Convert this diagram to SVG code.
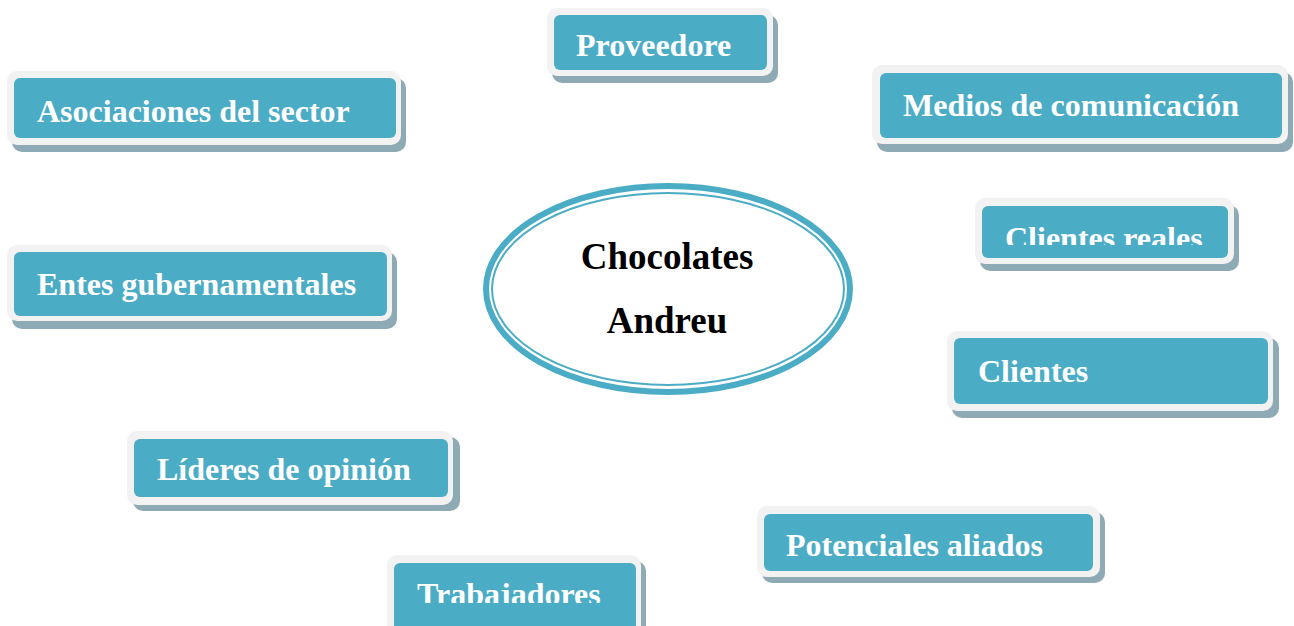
<svg xmlns="http://www.w3.org/2000/svg" width="1294" height="626" viewBox="0 0 1294 626">
<style>
.sh{fill:#8eaab4}
.out{fill:#f2f2f2}
.in{fill:#4bacc6}
.lbl{font-family:"Liberation Serif","Times New Roman",serif;font-weight:bold;font-size:32px;fill:#ffffff}
.ctr{font-family:"Liberation Serif","Times New Roman",serif;font-weight:bold;font-size:37px;fill:#000000;text-anchor:middle}
</style>
<defs>
<clipPath id="clipCR"><rect x="982" y="206" width="246" height="39"/></clipPath>
<clipPath id="clipTR"><rect x="394" y="563" width="242" height="40"/></clipPath>
</defs>
<rect width="1294" height="626" fill="#ffffff"/>
<g id="connectors"></g>
<g id="center">
<ellipse cx="668" cy="289" rx="182" ry="103" fill="#ffffff" stroke="#4bacc6" stroke-width="6"/>
<ellipse cx="668" cy="289" rx="176" ry="96" fill="none" stroke="#4bacc6" stroke-width="2"/>
<text class="ctr" x="667" y="269">Chocolates</text>
<text class="ctr" x="667" y="333">Andreu</text>
</g>
<g id="proveedore">
<rect class="sh" x="552" y="15" width="226" height="68" rx="10"/>
<rect class="out" x="547" y="8" width="226" height="68" rx="10"/>
<rect class="in" x="554" y="15" width="213" height="55" rx="6"/>
<text class="lbl" x="576" y="56">Proveedore</text>
</g>
<g id="asociaciones">
<rect class="sh" x="12" y="78" width="394" height="74" rx="10"/>
<rect class="out" x="7" y="71" width="394" height="74" rx="10"/>
<rect class="in" x="14" y="78" width="382" height="60" rx="6"/>
<text class="lbl" x="37" y="122">Asociaciones del sector</text>
</g>
<g id="medios">
<rect class="sh" x="877" y="72" width="416" height="80" rx="10"/>
<rect class="out" x="872" y="65" width="416" height="79" rx="10"/>
<rect class="in" x="880" y="73" width="402" height="65" rx="6"/>
<text class="lbl" x="903" y="116">Medios de comunicación</text>
</g>
<g id="clientes-reales">
<rect class="sh" x="980" y="205" width="259" height="66" rx="10"/>
<rect class="out" x="975" y="198" width="259" height="66" rx="10"/>
<rect class="in" x="982" y="206" width="246" height="52" rx="6"/>
<text class="lbl" x="1005" y="249" clip-path="url(#clipCR)">Clientes reales</text>
</g>
<g id="entes">
<rect class="sh" x="12" y="252" width="385" height="77" rx="10"/>
<rect class="out" x="7" y="245" width="385" height="76" rx="10"/>
<rect class="in" x="14" y="252" width="373" height="64" rx="6"/>
<text class="lbl" x="37" y="295">Entes gubernamentales</text>
</g>
<g id="clientes">
<rect class="sh" x="952" y="338" width="327" height="80" rx="10"/>
<rect class="out" x="947" y="331" width="326" height="80" rx="10"/>
<rect class="in" x="954" y="338" width="314" height="66" rx="6"/>
<text class="lbl" x="978" y="382">Clientes</text>
</g>
<g id="lideres">
<rect class="sh" x="133" y="437" width="327" height="74" rx="10"/>
<rect class="out" x="127" y="431" width="326" height="74" rx="10"/>
<rect class="in" x="134" y="439" width="314" height="58" rx="6"/>
<text class="lbl" x="157" y="480">Líderes de opinión</text>
</g>
<g id="potenciales">
<rect class="sh" x="762" y="512" width="343" height="71" rx="10"/>
<rect class="out" x="757" y="506" width="343" height="71" rx="10"/>
<rect class="in" x="764" y="514" width="329" height="57" rx="6"/>
<text class="lbl" x="786" y="556">Potenciales aliados</text>
</g>
<g id="trabajadores">
<rect class="sh" x="392" y="561" width="254" height="80" rx="10"/>
<rect class="out" x="387" y="555" width="254" height="80" rx="10"/>
<rect class="in" x="394" y="563" width="242" height="70" rx="6"/>
<text class="lbl" x="417" y="605" clip-path="url(#clipTR)">Trabajadores</text>
</g>
</svg>
